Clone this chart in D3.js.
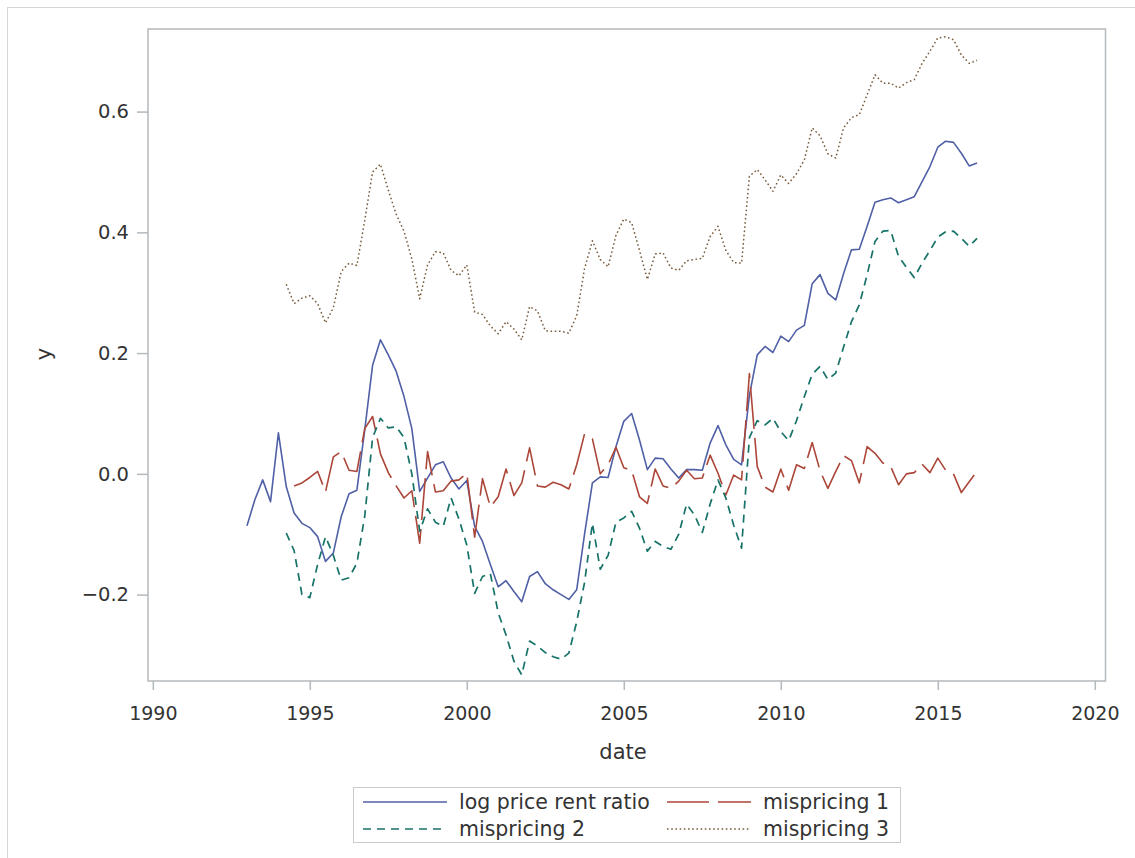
<!DOCTYPE html>
<html>
<head>
<meta charset="utf-8">
<script src="https://cdn.jsdelivr.net/npm/d3@7"></script>
<style>
  html, body { margin: 0; padding: 0; background: #fff; }
  svg { display: block; font-family: "DejaVu Sans", sans-serif; }
</style>
</head>
<body>
<svg id="chart" width="1135" height="858"></svg>
<script>
// Quarterly series, first observation 1993 Q1 (log price rent ratio)
const startYear = 1993;
const logPriceRent = [
  -0.086, -0.043, -0.010, -0.046, 0.068, -0.021, -0.065, -0.082, -0.089, -0.104,
  -0.145, -0.131, -0.071, -0.033, -0.027, 0.073, 0.180, 0.222, 0.197, 0.170,
  0.128, 0.075, -0.029, -0.007, 0.015, 0.020, -0.007, -0.025, -0.011, -0.087,
  -0.112, -0.150, -0.187, -0.177, -0.195, -0.212, -0.170, -0.162, -0.182, -0.192,
  -0.200, -0.208, -0.192, -0.100, -0.015, -0.005, -0.006, 0.045, 0.087, 0.100,
  0.056, 0.007, 0.026, 0.025, 0.008, -0.007, 0.007, 0.007, 0.006, 0.051,
  0.080, 0.048, 0.024, 0.015, 0.130, 0.197, 0.211, 0.201, 0.228, 0.219,
  0.238, 0.246, 0.315, 0.330, 0.299, 0.288, 0.332, 0.371, 0.372, 0.410,
  0.450, 0.454, 0.457, 0.449, 0.454, 0.459, 0.484, 0.509, 0.541, 0.551,
  0.549, 0.531, 0.510, 0.515
];
// mispricing 1 starts 1994 Q3
const mis1Start = 1994.5;
const mispricing1 = [
  -0.020, -0.015, -0.006, 0.004, -0.030, 0.028, 0.037, 0.006, 0.004, 0.075,
  0.095, 0.033, 0.002, -0.020, -0.040, -0.028, -0.115, 0.037, -0.030, -0.028,
  -0.012, -0.010, 0.001, -0.105, -0.008, -0.055, -0.038, 0.008, -0.036, -0.015,
  0.043, -0.020, -0.022, -0.014, -0.018, -0.025, 0.015, 0.066, 0.058, 0.000,
  0.015, 0.044, 0.010, 0.006, -0.038, -0.049, 0.008, -0.020, -0.024, -0.012,
  0.006, -0.008, -0.007, 0.031, 0.001, -0.035, -0.002, -0.010, 0.166, 0.012,
  -0.022, -0.030, 0.008, -0.027, 0.015, 0.009, 0.052, 0.005, -0.024, 0.004,
  0.030, 0.022, -0.015, 0.045, 0.034, 0.018, 0.012, -0.018, 0.000, 0.002,
  0.016, 0.002, 0.026, 0.006, 0.000, -0.031, -0.013, 0.004
];
// mispricing 2 and 3 start 1994 Q2
const mis23Start = 1994.25;
const mispricing2 = [
  -0.098, -0.127, -0.200, -0.205, -0.150, -0.104, -0.135, -0.176, -0.172, -0.148,
  -0.070, 0.060, 0.092, 0.076, 0.078, 0.060, 0.000, -0.095, -0.058, -0.080,
  -0.087, -0.040, -0.075, -0.118, -0.198, -0.170, -0.165, -0.230, -0.267, -0.310,
  -0.333, -0.277, -0.285, -0.296, -0.303, -0.307, -0.297, -0.245, -0.180, -0.082,
  -0.158, -0.135, -0.080, -0.073, -0.062, -0.090, -0.128, -0.112, -0.120, -0.125,
  -0.100, -0.050, -0.068, -0.097, -0.050, -0.010, -0.040, -0.085, -0.123, 0.060,
  0.088, 0.081, 0.092, 0.070, 0.055, 0.088, 0.128, 0.165, 0.178, 0.156,
  0.167, 0.210, 0.252, 0.280, 0.330, 0.385, 0.402, 0.403, 0.360, 0.342,
  0.325, 0.349, 0.370, 0.392, 0.401, 0.402, 0.390, 0.377, 0.390
];
const mispricing3 = [
  0.314, 0.282, 0.291, 0.295, 0.282, 0.250, 0.275, 0.335, 0.349, 0.345,
  0.420, 0.500, 0.513, 0.470, 0.430, 0.402, 0.356, 0.290, 0.346, 0.368,
  0.366, 0.337, 0.328, 0.346, 0.268, 0.264, 0.245, 0.232, 0.252, 0.240,
  0.222, 0.277, 0.270, 0.237, 0.236, 0.236, 0.233, 0.262, 0.340, 0.386,
  0.355, 0.343, 0.395, 0.422, 0.416, 0.370, 0.322, 0.364, 0.366, 0.341,
  0.337, 0.353, 0.355, 0.357, 0.393, 0.410, 0.370, 0.350, 0.349, 0.493,
  0.504, 0.487, 0.468, 0.495, 0.481, 0.497, 0.520, 0.573, 0.560, 0.530,
  0.523, 0.573, 0.590, 0.595, 0.628, 0.661, 0.647, 0.647, 0.639, 0.648,
  0.653, 0.680, 0.700, 0.722, 0.724, 0.719, 0.694, 0.680, 0.685
];
const xTicks = [1990, 1995, 2000, 2005, 2010, 2015, 2020];
const yTicks = [-0.2, 0.0, 0.2, 0.4, 0.6];
const seriesNames = ["log price rent ratio", "mispricing 1", "mispricing 2", "mispricing 3"];

// ---- layout ----
const svg = d3.select("#chart");
const frame = { left: 148, top: 29, right: 1105.5, bottom: 681 };
const textColor = "#333333";
const axisColor = "#b4b9bc";

const x = d3.scaleLinear().domain([1990, 2020]).range([152.8, 1094.8]);
const y = d3.scaleLinear().domain([-0.2, 0.6]).range([594.6, 111.6]);

function quarterly(values, first) {
  return values.map((v, i) => ({ t: first + i * 0.25, v }));
}

const series = [
  { name: seriesNames[0], data: quarterly(logPriceRent, startYear), color: "#5060a6", dash: null, width: 1.6 },
  { name: seriesNames[1], data: quarterly(mispricing1, mis1Start), color: "#ab4639", dash: "42,9", width: 1.6 },
  { name: seriesNames[2], data: quarterly(mispricing2, mis23Start), color: "#177268", dash: "8,6", width: 1.7 },
  { name: seriesNames[3], data: quarterly(mispricing3, mis23Start), color: "#7a5c3c", dash: "1.6,2.6", width: 1.5 }
];

// outer graph border
svg.append("rect")
  .attr("x", 7.5).attr("y", 7.5)
  .attr("width", 1200).attr("height", 900)
  .attr("fill", "none").attr("stroke", "#d4d6d8").attr("stroke-width", 1);

// clip for data area
svg.append("defs").append("clipPath").attr("id", "plotclip")
  .append("rect")
  .attr("x", frame.left).attr("y", frame.top)
  .attr("width", frame.right - frame.left).attr("height", frame.bottom - frame.top);

// axes
const xAxis = d3.axisBottom(x).tickValues(xTicks).tickFormat(d3.format("d"))
  .tickSize(9).tickPadding(17);
const gx = svg.append("g").attr("transform", `translate(0,${frame.bottom})`).call(xAxis);

const yAxis = d3.axisLeft(y).tickValues(yTicks).tickFormat(d3.format(".1f"))
  .tickSize(11).tickPadding(8);
const gy = svg.append("g").attr("transform", `translate(${frame.left},0)`).call(yAxis);

[gx, gy].forEach(g => {
  g.select(".domain").remove();
  g.selectAll(".tick line").attr("stroke", axisColor).attr("stroke-width", 1.5);
  g.selectAll(".tick text")
    .attr("fill", textColor)
    .style("font-family", "'DejaVu Sans', sans-serif")
    .style("font-size", "19px");
});
gy.selectAll(".tick text")
  .style("font-size", "19.5px")
  .text(d => d3.format(".1f")(d).replace("-", "\u2212"));

// plot frame
svg.append("rect")
  .attr("x", frame.left).attr("y", frame.top)
  .attr("width", frame.right - frame.left).attr("height", frame.bottom - frame.top)
  .attr("fill", "none").attr("stroke", axisColor).attr("stroke-width", 1.5);

// series lines
const line = d3.line().x(d => x(d.t)).y(d => y(d.v));
const plot = svg.append("g").attr("clip-path", "url(#plotclip)");
series.forEach(s => {
  plot.append("path")
    .datum(s.data)
    .attr("d", line)
    .attr("fill", "none")
    .attr("stroke", s.color)
    .attr("stroke-width", s.width)
    .attr("stroke-linejoin", "round")
    .attr("stroke-dasharray", s.dash);
});

// axis titles
svg.append("text")
  .attr("x", 623).attr("y", 759)
  .attr("text-anchor", "middle")
  .attr("fill", textColor)
  .style("font-size", "21px")
  .text("date");

svg.append("text")
  .attr("transform", "translate(51,354) rotate(-90)")
  .attr("text-anchor", "middle")
  .attr("fill", textColor)
  .style("font-size", "21px")
  .text("y");

// legend
const legend = svg.append("g");
legend.append("rect")
  .attr("x", 353.5).attr("y", 787.5)
  .attr("width", 547).attr("height", 55)
  .attr("fill", "#fff").attr("stroke", "#c9cccf").attr("stroke-width", 1);

const legendPos = [
  { lx: 363, ly: 802 },
  { lx: 667, ly: 802 },
  { lx: 363, ly: 829 },
  { lx: 667, ly: 829 }
];
series.forEach((s, i) => {
  const p = legendPos[i];
  legend.append("line")
    .attr("x1", p.lx).attr("x2", p.lx + 84)
    .attr("y1", p.ly).attr("y2", p.ly)
    .attr("stroke", s.color)
    .attr("stroke-width", s.width)
    .attr("stroke-dasharray", s.dash);
  legend.append("text")
    .attr("x", p.lx + 96).attr("y", p.ly + 7)
    .attr("fill", textColor)
    .style("font-size", "20.5px")
    .text(s.name);
});
</script>
</body>
</html>
